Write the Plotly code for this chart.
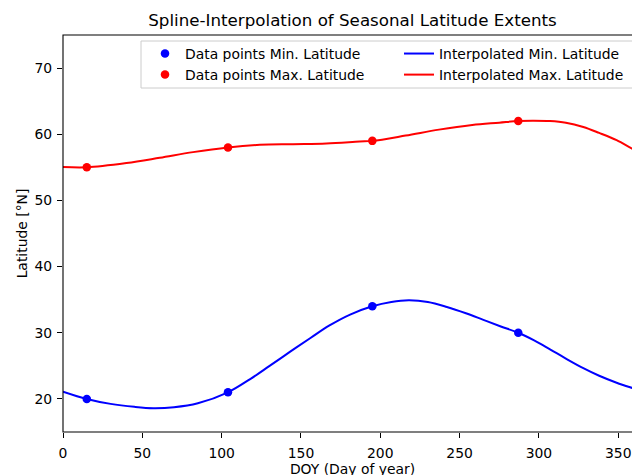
import plotly.graph_objects as go

# ---- data ----
doy_points = [15, 104, 195, 287]
min_lat_points = [20, 21, 34, 30]
max_lat_points = [55, 58, 59, 62]

# interpolated curves
min_curve_doy = [0, 15, 30, 45, 57, 70, 85, 104, 118, 130, 143, 156, 168, 181, 195,
                 207, 218, 230, 242, 254, 265, 276, 287, 297, 307, 317, 328, 338, 349,
                 359, 365]
min_curve_lat = [21.1, 20.0, 19.25, 18.8, 18.6, 18.75, 19.35, 21.0, 23.0, 24.95, 27.1,
                 29.2, 31.1, 32.75, 34.0, 34.65, 34.9, 34.65, 33.9, 32.95, 31.95, 30.95,
                 30.0, 28.85, 27.5, 26.1, 24.65, 23.5, 22.45, 21.65, 21.2]
max_curve_doy = [0, 15, 40, 61, 82, 104, 124, 145, 166, 187, 195, 216, 237, 258, 275,
                 287, 296, 307, 317, 328, 338, 349, 359, 365]
max_curve_lat = [55.05, 55.0, 55.65, 56.45, 57.3, 58.0, 58.4, 58.5, 58.6, 58.9, 59.0,
                 59.8, 60.7, 61.4, 61.75, 62.0, 62.05, 62.0, 61.75, 61.1, 60.2, 59.1,
                 57.8, 57.1]

x_ticks = [0, 50, 100, 150, 200, 250, 300, 350]
y_ticks = [20, 30, 40, 50, 60, 70]

FONT = "DejaVu Sans"
fs = 13.9

# page body has an 8px margin -> figure origin sits at (8, 8) on screen
ML, MT, PW, PH = 55, 27, 579, 397


def px(xs):
    return (xs - 8 - ML) / PW


def py(ys):
    return 1 - (ys - 8 - MT) / PH


fig = go.Figure()
fig.add_trace(go.Scatter(x=doy_points, y=min_lat_points, mode="markers",
                         marker=dict(color="#0000ff", size=8.5),
                         name="Data points Min. Latitude", legend="legend"))
fig.add_trace(go.Scatter(x=min_curve_doy, y=min_curve_lat, mode="lines",
                         line=dict(color="#0000ff", width=2, shape="spline", smoothing=1),
                         name="Interpolated Min. Latitude", legend="legend2"))
fig.add_trace(go.Scatter(x=doy_points, y=max_lat_points, mode="markers",
                         marker=dict(color="#ff0000", size=8.5),
                         name="Data points Max. Latitude", legend="legend"))
fig.add_trace(go.Scatter(x=max_curve_doy, y=max_curve_lat, mode="lines",
                         line=dict(color="#ff0000", width=2, shape="spline", smoothing=1),
                         name="Interpolated Max. Latitude", legend="legend2"))

legend_common = dict(orientation="v", yanchor="top", xanchor="left",
                     bgcolor="rgba(0,0,0,0)", borderwidth=0,
                     font=dict(size=fs, family=FONT, color="black"),
                     traceorder="normal")

fig.update_layout(
    width=640, height=475,
    margin=dict(l=ML, r=640 - ML - PW, t=MT, b=475 - MT - PH),
    plot_bgcolor="white", paper_bgcolor="white",
    font=dict(family=FONT, size=fs, color="black"),
    title=dict(text="Spline-Interpolation of Seasonal Latitude Extents",
               x=(352.5 - 8) / 640, xanchor="center", xref="container",
               y=1 - (20 - 8) / 475, yanchor="middle", yref="container",
               font=dict(size=16.7, family=FONT, color="black")),
    showlegend=True,
    legend=dict(x=px(145), y=py(38), **legend_common),
    legend2=dict(x=px(399), y=py(38), **legend_common),
    shapes=[
        dict(type="rect", xref="paper", yref="paper", x0=0, x1=1.05, y0=0, y1=1,
             line=dict(color="black", width=1.1), layer="above"),
        dict(type="rect", xref="paper", yref="paper",
             x0=px(141), x1=px(634), y0=py(88), y1=py(41),
             line=dict(color="#cccccc", width=1), fillcolor="rgba(255,255,255,0.8)",
             layer="above"),
    ],
)
fig.update_xaxes(range=[0, 365], tickvals=x_ticks, ticks="outside", ticklen=5,
                 tickwidth=1.1, tickcolor="black", showgrid=False, zeroline=False,
                 showline=False, ticklabelstandoff=3,
                 title=dict(text="DOY (Day of year)", standoff=2,
                            font=dict(size=fs, family=FONT)))
fig.update_yaxes(range=[15, 75], tickvals=y_ticks, ticks="outside", ticklen=5,
                 tickwidth=1.1, tickcolor="black", showgrid=False, zeroline=False,
                 showline=False, ticklabelstandoff=2,
                 title=dict(text="Latitude [°N]", standoff=3,
                            font=dict(size=fs, family=FONT)))

fig.write_html("out.html")
